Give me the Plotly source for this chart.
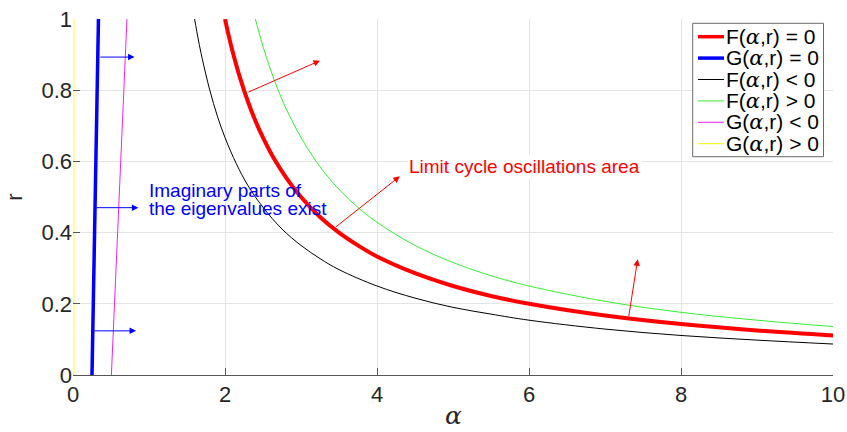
import plotly.graph_objects as go

# ---- data ----
alpha_F0 = [2.0, 2.05, 2.1, 2.2, 2.3, 2.4, 2.5, 2.65, 2.8, 3.0, 3.25, 3.5, 3.75, 4.0, 4.5, 5.0, 5.5, 6.0, 7.0, 8.0, 9.0, 10.0]
r_F0 = [1.0, 0.952, 0.909, 0.833, 0.769, 0.714, 0.667, 0.606, 0.556, 0.5, 0.444, 0.4, 0.364, 0.333, 0.286, 0.25, 0.222, 0.2, 0.167, 0.143, 0.125, 0.111]

alpha_Fneg = [1.6, 1.65, 1.7, 1.8, 1.9, 2.0, 2.15, 2.3, 2.5, 2.75, 3.0, 3.25, 3.5, 4.0, 4.5, 5.0, 5.5, 6.0, 7.0, 8.0, 9.0, 10.0]
r_Fneg = [1.0, 0.941, 0.889, 0.8, 0.727, 0.667, 0.593, 0.533, 0.471, 0.41, 0.364, 0.327, 0.296, 0.25, 0.216, 0.19, 0.171, 0.154, 0.129, 0.111, 0.098, 0.087]

alpha_Fpos = [2.4, 2.45, 2.5, 2.6, 2.7, 2.8, 3.0, 3.2, 3.4, 3.7, 4.0, 4.5, 5.0, 5.5, 6.0, 7.0, 8.0, 9.0, 10.0]
r_Fpos = [1.0, 0.96, 0.923, 0.857, 0.8, 0.75, 0.667, 0.6, 0.545, 0.48, 0.429, 0.364, 0.316, 0.279, 0.25, 0.207, 0.176, 0.154, 0.136]

alpha_G0 = [0.25, 0.335]
r_G0 = [0.0, 1.0]

alpha_Gneg = [0.505, 0.71]
r_Gneg = [0.0, 1.0]

alpha_Gpos = [0.012, 0.012]
r_Gpos = [0.0, 1.0]

legend_names = ["F(α,r) = 0", "G(α,r) = 0", "F(α,r) < 0",
                "F(α,r) > 0", "G(α,r) < 0", "G(α,r) > 0"]

# arrows: (start alpha, start r, end alpha, end r)
blue_arrows = [(0.34, 0.893, 0.81, 0.893), (0.29, 0.47, 0.86, 0.47), (0.26, 0.124, 0.83, 0.124)]
red_arrows = [(2.29, 0.793, 3.25, 0.883), (3.44, 0.413, 4.30, 0.558), (7.31, 0.161, 7.43, 0.325)]

x_ticks = [0, 2, 4, 6, 8, 10]
y_ticks = [0, 0.2, 0.4, 0.6, 0.8, 1]
y_tick_text = ["0", "0.2", "0.4", "0.6", "0.8", "1"]

# ---- layout constants (pixels) ----
W, H = 847, 432
ML, MR, MT, MB = 73, 14, 19, 57
PW, PH = W - ML - MR, H - MT - MB


def px(xp):
    return (xp - ML) / PW


def py(yp):
    return (H - MB - yp) / PH


ALPHA = "<span style='font-family:DejaVu Serif;font-style:italic'>α</span>"

fig = go.Figure()

series = [
    (alpha_F0, r_F0, "#ff0000", 4),
    (alpha_G0, r_G0, "#0000ff", 3.5),
    (alpha_Fneg, r_Fneg, "#000000", 1),
    (alpha_Fpos, r_Fpos, "#33ee33", 1),
    (alpha_Gneg, r_Gneg, "#ee22ee", 1),
    (alpha_Gpos, r_Gpos, "#ffff70", 1.5),
]
for (xs, ys, col, w), name in zip(series, legend_names):
    fig.add_trace(go.Scatter(x=xs, y=ys, mode="lines", name=name, showlegend=False,
                             line=dict(color=col, width=w, shape="spline", smoothing=1.0)))

annotations = []
for (x0, y0, x1, y1) in blue_arrows:
    annotations.append(dict(x=x1, y=y1, ax=x0, ay=y0, xref="x", yref="y", axref="x", ayref="y",
                            text="", showarrow=True, arrowhead=2, arrowsize=1.3, arrowwidth=1,
                            arrowcolor="#0000ff"))
for (x0, y0, x1, y1) in red_arrows:
    annotations.append(dict(x=x1, y=y1, ax=x0, ay=y0, xref="x", yref="y", axref="x", ayref="y",
                            text="", showarrow=True, arrowhead=2, arrowsize=1.3, arrowwidth=1,
                            arrowcolor="#ff0000"))

txtfont = dict(family="Liberation Sans, Arial", size=19)
annotations.append(dict(x=0.975, y=0.5185, xref="x", yref="y", xanchor="left", yanchor="middle",
                        text="Imaginary parts of", showarrow=False,
                        font=dict(**txtfont, color="#0000ff")))
annotations.append(dict(x=0.975, y=0.467, xref="x", yref="y", xanchor="left", yanchor="middle",
                        text="the eigenvalues exist", showarrow=False,
                        font=dict(**txtfont, color="#0000ff")))
annotations.append(dict(x=4.40, y=0.586, xref="x", yref="y", xanchor="left", yanchor="middle",
                        text="Limit cycle oscillations area", bgcolor="white",
                        showarrow=False, font=dict(**txtfont, color="#ff0000")))

# x-axis title (placed like the reference)
annotations.append(dict(x=0.5, y=py(431), xref="paper", yref="paper", xanchor="center",
                        yanchor="bottom", showarrow=False, text="<i>α</i>", borderpad=0,
                        font=dict(family="DejaVu Serif", size=25, color="#262626")))

# ---- legend box drawn like the reference ----
shapes = [dict(type="rect", xref="paper", yref="paper",
               x0=px(692.7), x1=px(823.5), y0=py(156.7), y1=py(23.3),
               line=dict(color="#6a6a6a", width=1), fillcolor="white", layer="above")]
row_y = [36.7, 58.1, 79.5, 100.9, 122.3, 143.7]
for (xs, ys, col, w), name, yy in zip(series, legend_names, row_y):
    lw = 3.5 if w > 2 else 1
    shapes.append(dict(type="line", xref="paper", yref="paper",
                       x0=px(698), x1=px(724), y0=py(yy), y1=py(yy),
                       line=dict(color=col if col != "#ffff70" else "#f5f500", width=lw), layer="above"))
    annotations.append(dict(x=px(724.0), y=py(yy), xref="paper", yref="paper",
                            xanchor="left", yanchor="middle", showarrow=False,
                            text=name.replace("α", ALPHA),
                            font=dict(family="Liberation Sans, Arial", size=21, color="#000000")))

fig.update_layout(
    width=W, height=H, autosize=False,
    margin=dict(l=ML, r=MR, t=MT, b=MB),
    paper_bgcolor="white", plot_bgcolor="white",
    font=dict(family="Liberation Sans, Arial", color="#262626"),
    annotations=annotations, shapes=shapes,
    showlegend=False,
)
fig.update_xaxes(range=[0, 10], tickvals=x_ticks, ticktext=[str(v) for v in x_ticks],
                 automargin=False,
                 showgrid=True, gridcolor="#e4e4e4", gridwidth=1, zeroline=False,
                 showline=True, linecolor="#555555", linewidth=1,
                 ticks="inside", ticklen=7, tickcolor="#555555",
                 tickfont=dict(size=22, color="#262626"))
fig.update_yaxes(range=[0, 1], tickvals=y_ticks, ticktext=y_tick_text,
                 automargin=False,
                 showgrid=True, gridcolor="#e4e4e4", gridwidth=1, zeroline=False,
                 showline=False,
                 ticks="inside", ticklen=7, tickcolor="#555555",
                 tickfont=dict(size=22, color="#262626"),
                 title=dict(text="r", font=dict(size=22, color="#262626"), standoff=12))

fig.write_html("out.html", config={"displayModeBar": False},
               post_script="document.body.style.margin='0px';document.body.style.overflow='hidden';")
